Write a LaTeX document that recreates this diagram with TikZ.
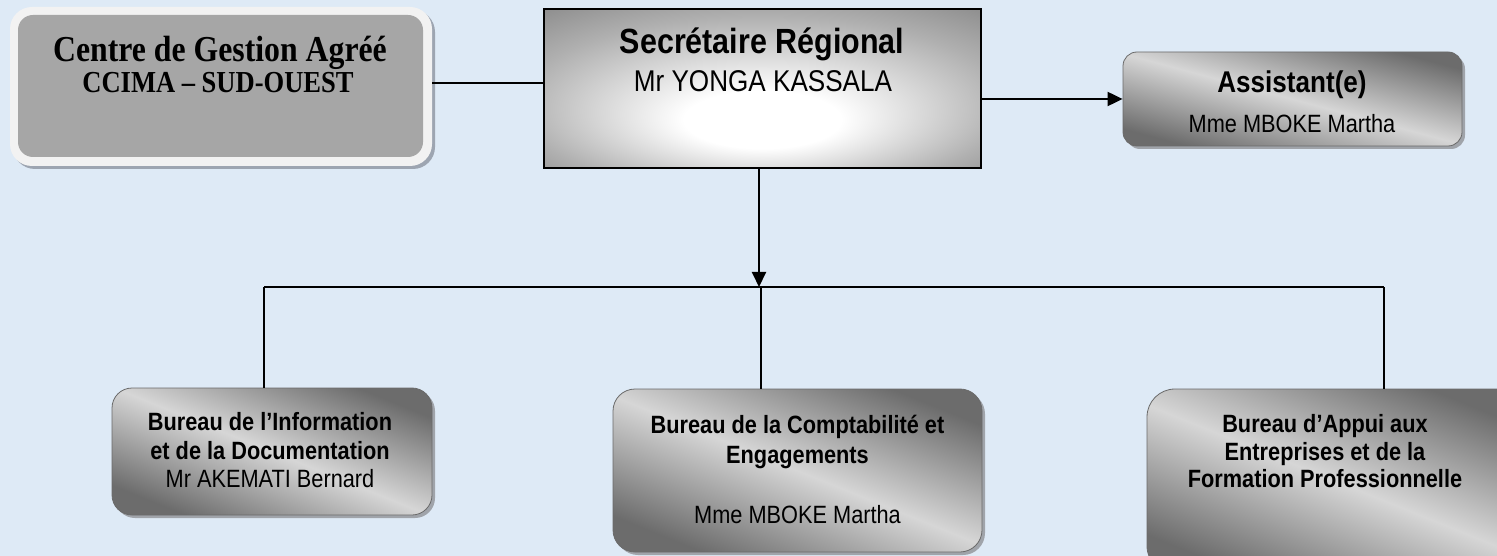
\documentclass[tikz,border=0pt]{standalone}
\usepackage{fontspec}
\newfontfamily\serfont[FakeStretch=0.87]{Liberation Serif}
\newfontfamily\sanfont[FakeStretch=0.87]{Liberation Sans}
\usetikzlibrary{arrows.meta,shadows}
\definecolor{bg}{HTML}{DEEAF6}
\definecolor{cgframe}{HTML}{F2F2F2}
\definecolor{cgfill}{HTML}{A6A6A6}
\definecolor{cgshadow}{HTML}{9DA5B1}
\definecolor{gdark}{HTML}{6C6C6C}
\definecolor{glight}{HTML}{D6D6D6}
\definecolor{secout}{HTML}{787878}
\definecolor{secmid}{HTML}{B0B0B0}
\definecolor{boxline}{HTML}{6A6A6A}
\definecolor{boxshadow}{HTML}{A0A4AA}
\pgfdeclareradialshading{secshade}{\pgfpoint{0bp}{-12bp}}{color(0bp)=(white); color(9bp)=(white); color(28bp)=(secmid); color(44bp)=(secout); color(50bp)=(secout)}
\tikzset{
  grad/.style={top color=gdark, bottom color=gdark, middle color=glight, shading angle=#1},
  grad/.default=-22,
  bureau/.style={rectangle, draw=boxline, line width=0.8pt, grad=#1, inner sep=0pt,
    drop shadow={shadow xshift=3pt, shadow yshift=-3pt, fill=boxshadow, opacity=1}},
  bureau/.default=-22,
  txt/.style={inner sep=0pt, anchor=base},
  bnorm/.style={txt, font=\sanfont\fontsize{25}{28}\selectfont},
  bbold/.style={txt, font=\sanfont\bfseries\fontsize{25}{28}\selectfont},
  conn/.style={line width=1.5pt, draw=black},
  arr/.style={line width=2pt, -{Triangle[length=15pt,width=14pt]}},
  busline/.style={line width=2pt},
  drop/.style={line width=1.1pt},
}
\begin{document}
\begin{tikzpicture}[x=1pt,y=-1pt]
\useasboundingbox (0,0) rectangle (1497,556);
\fill[bg] (0,0) rectangle (1497,556);

% Centre de Gestion
\node[rectangle, rounded corners=22pt, fill=cgframe, minimum width=422pt, minimum height=159pt, inner sep=0pt,
  drop shadow={shadow xshift=3pt, shadow yshift=-3pt, fill=cgshadow, opacity=1}] (cga) at (221,86.5) {};
\node[rectangle, rounded corners=15pt, fill=cgfill, minimum width=405pt, minimum height=142pt, inner sep=0pt] (cgain) at (220.5,86) {};
\node[txt, font=\serfont\bfseries\fontsize{36.5}{40}\selectfont] (cga1) at (220,62) {Centre de Gestion Agréé};
\node[txt, font=\serfont\bfseries\fontsize{30.5}{34}\selectfont] (cga2) at (218,92.5) {CCIMA – SUD-OUEST};

% Secretaire
\node[rectangle, draw=black, line width=2pt, shading=secshade, minimum width=437pt, minimum height=159pt, inner sep=0pt] (sec) at (762.5,88.5) {};
\node[txt, font=\sanfont\bfseries\fontsize{35}{40}\selectfont] (sec1) at (762,54) {Secrétaire Régional};
\node[txt, font=\sanfont\fontsize{30}{34}\selectfont] (sec2) at (763,92) {Mr YONGA KASSALA};

% Assistant
\node[bureau=-15, rounded corners=14pt, minimum width=339pt, minimum height=94pt] (asst) at (1292.5,99) {};
\node[txt, font=\sanfont\bfseries\fontsize{30}{34}\selectfont] (asst1) at (1292,93) {Assistant(e)};
\node[txt, font=\sanfont\fontsize{25}{28}\selectfont] (asst2) at (1292,133) {Mme MBOKE Martha};

% Bureaux
\node[bureau, rounded corners=20pt, minimum width=320pt, minimum height=127pt] (bl) at (272,451.5) {};
\node[bbold] (bl1) at (270,430) {Bureau de l’Information};
\node[bbold] (bl2) at (270,459) {et de la Documentation};
\node[bnorm] (bl3) at (270,487) {Mr AKEMATI Bernard};

\node[bureau, rounded corners=22pt, minimum width=369pt, minimum height=163pt] (bm) at (797.5,470.5) {};
\node[bbold] (bm1) at (797.5,433) {Bureau de la Comptabilité et};
\node[bbold] (bm2) at (797.5,463) {Engagements};
\node[bnorm] (bm3) at (797.5,523) {Mme MBOKE Martha};

\node[bureau, rounded corners=28pt, minimum width=380pt, minimum height=185pt] (br) at (1337,481.5) {};
\node[bbold] (br1) at (1325,432) {Bureau d’Appui aux};
\node[bbold] (br2) at (1325,460) {Entreprises et de la};
\node[bbold] (br3) at (1325,487) {Formation Professionnelle};

% connectors
\coordinate (yl) at (0,83);
\coordinate (busL) at (264,287);
\coordinate (busA) at (759,287);
\coordinate (busM) at (761,287);
\coordinate (busR) at (1384,287);
\draw[conn] (cga.east |- yl) -- (sec.west |- yl);
\draw[arr] (sec.east |- asst.west) -- (asst.west);
\draw[arr] (sec.south -| busA) -- (busA);
\draw[busline] (busL) -- (busR);
\draw[drop] (busL) -- (busL |- bl.north);
\draw[drop] (busM) -- (busM |- bm.north);
\draw[drop] (busR) -- (busR |- br.north);
\end{tikzpicture}
\end{document}
